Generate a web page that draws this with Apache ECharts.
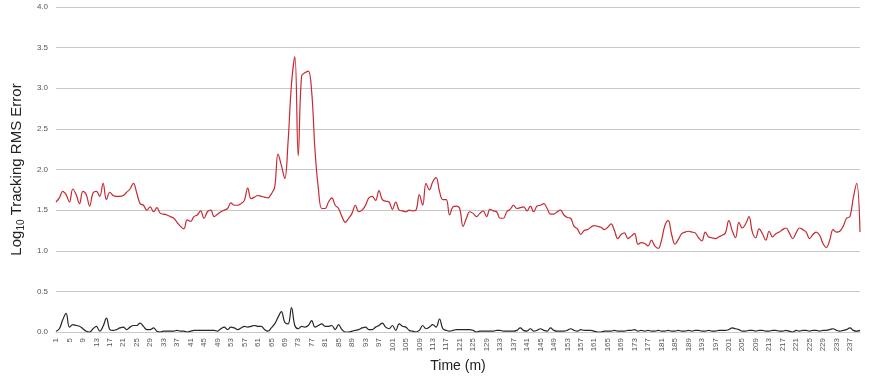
<!DOCTYPE html>
<html>
<head>
<meta charset="utf-8">
<script src="https://cdn.jsdelivr.net/npm/echarts@6/dist/echarts.min.js"></script>
<style>
  html, body { margin: 0; padding: 0; background: #fff; }
  #main { width: 871px; height: 376px; }
</style>
</head>
<body>
<div id="main"></div>
<script>
// time in minutes, 1..240
var minutes = [];
for (var m = 1; m <= 240; m++) { minutes.push(String(m)); }

// upper (red) series, log10 tracking RMS error
var redSeries = [
  1.60,1.65,1.73,1.69,1.60,1.76,1.69,1.58,1.73,1.69,
  1.55,1.71,1.73,1.67,1.83,1.63,1.72,1.68,1.67,1.67,
  1.68,1.72,1.76,1.83,1.71,1.58,1.56,1.50,1.54,1.48,
  1.53,1.46,1.45,1.44,1.42,1.40,1.35,1.30,1.27,1.38,
  1.36,1.42,1.44,1.49,1.40,1.48,1.50,1.42,1.45,1.48,
  1.50,1.52,1.59,1.56,1.56,1.58,1.62,1.77,1.64,1.66,
  1.68,1.67,1.66,1.65,1.70,1.78,2.19,2.05,1.89,2.35,
  3.05,3.39,2.17,3.15,3.19,3.21,2.96,2.23,1.76,1.52,
  1.52,1.60,1.65,1.56,1.52,1.42,1.35,1.40,1.46,1.56,
  1.48,1.50,1.56,1.65,1.67,1.62,1.74,1.63,1.61,1.60,
  1.51,1.60,1.50,1.49,1.48,1.50,1.49,1.50,1.69,1.56,
  1.83,1.75,1.85,1.90,1.73,1.63,1.63,1.44,1.54,1.55,
  1.52,1.30,1.40,1.48,1.46,1.42,1.46,1.49,1.42,1.51,
  1.49,1.48,1.40,1.40,1.48,1.51,1.56,1.52,1.53,1.54,
  1.49,1.55,1.48,1.55,1.56,1.58,1.52,1.45,1.45,1.48,
  1.50,1.44,1.41,1.40,1.30,1.27,1.20,1.25,1.26,1.29,
  1.31,1.30,1.29,1.26,1.29,1.33,1.25,1.15,1.20,1.22,
  1.15,1.18,1.21,1.08,1.10,1.09,1.06,1.13,1.06,1.03,
  1.13,1.31,1.37,1.20,1.08,1.14,1.21,1.23,1.24,1.23,
  1.22,1.16,1.12,1.23,1.17,1.16,1.15,1.17,1.19,1.22,
  1.37,1.25,1.16,1.35,1.28,1.33,1.42,1.23,1.16,1.27,
  1.21,1.13,1.24,1.17,1.21,1.23,1.26,1.28,1.22,1.15,
  1.22,1.28,1.26,1.23,1.15,1.20,1.23,1.19,1.09,1.04,
  1.13,1.26,1.23,1.24,1.30,1.40,1.42,1.65,1.83,1.23
];

// lower (black) series
var blackSeries = [
  0.01,0.04,0.15,0.23,0.06,0.09,0.08,0.07,0.04,0.01,
  0.00,0.04,0.07,0.01,0.07,0.17,0.03,0.02,0.03,0.05,
  0.06,0.03,0.06,0.08,0.08,0.11,0.07,0.03,0.03,0.05,
  0.01,0.00,0.01,0.01,0.01,0.01,0.02,0.01,0.01,0.00,
  0.01,0.02,0.02,0.02,0.02,0.02,0.02,0.02,0.01,0.04,
  0.06,0.03,0.06,0.05,0.03,0.05,0.07,0.06,0.07,0.08,
  0.07,0.07,0.03,0.01,0.05,0.10,0.18,0.25,0.12,0.10,
  0.30,0.08,0.04,0.07,0.06,0.08,0.14,0.06,0.08,0.10,
  0.07,0.07,0.08,0.03,0.09,0.03,0.00,0.00,0.01,0.02,
  0.03,0.05,0.06,0.03,0.03,0.06,0.08,0.11,0.06,0.04,
  0.08,0.02,0.10,0.07,0.06,0.02,0.01,0.00,0.02,0.08,
  0.04,0.06,0.09,0.06,0.16,0.04,0.02,0.01,0.02,0.03,
  0.03,0.03,0.03,0.03,0.02,0.00,0.01,0.01,0.01,0.01,
  0.01,0.02,0.02,0.01,0.01,0.01,0.01,0.02,0.05,0.02,
  0.01,0.04,0.01,0.02,0.04,0.02,0.01,0.05,0.02,0.01,
  0.01,0.01,0.02,0.04,0.02,0.01,0.03,0.02,0.02,0.02,
  0.01,0.00,0.00,0.01,0.01,0.01,0.02,0.01,0.01,0.01,
  0.02,0.02,0.03,0.01,0.02,0.01,0.02,0.01,0.01,0.02,
  0.01,0.01,0.02,0.01,0.01,0.02,0.01,0.01,0.02,0.01,
  0.02,0.02,0.01,0.01,0.02,0.01,0.01,0.02,0.02,0.02,
  0.03,0.05,0.04,0.03,0.01,0.01,0.02,0.02,0.01,0.02,
  0.02,0.01,0.01,0.02,0.02,0.01,0.01,0.02,0.01,0.00,
  0.02,0.01,0.02,0.02,0.01,0.02,0.02,0.01,0.02,0.02,
  0.03,0.04,0.02,0.01,0.02,0.03,0.05,0.02,0.01,0.02
];

var chart = echarts.init(document.getElementById('main'));

var option = {
    animation: false,
    backgroundColor: '#fff',
    textStyle: { fontFamily: 'Liberation Sans' },
    grid: { left: 56, right: 11, top: 7, bottom: 44, outerBoundsMode: 'none' },
    xAxis: {
        type: 'category',
        data: minutes,
        boundaryGap: false,
        name: 'Time (m)',
        nameLocation: 'middle',
        nameGap: 26,
        nameTextStyle: { fontSize: 14, color: '#222' },
        axisLine: { lineStyle: { color: '#c8c8c8' } },
        axisTick: { show: false },
        axisLabel: { interval: 3, rotate: 90, fontSize: 8, color: '#555', margin: 6 }
    },
    yAxis: {
        type: 'value',
        min: 0,
        max: 4,
        interval: 0.5,
        name: '{t|Log}{s|10}{t| Tracking RMS Error}',
        nameLocation: 'middle',
        nameGap: 28,
        nameTextStyle: {
            rich: {
                t: { fontSize: 15, color: '#222', fontFamily: 'Liberation Sans' },
                s: { fontSize: 10, color: '#222', fontFamily: 'Liberation Sans', verticalAlign: 'bottom', padding: [8, 0, 0, 0] }
            }
        },
        axisLine: { show: false },
        axisTick: { show: false },
        axisLabel: {
            fontSize: 8, color: '#555', margin: 8,
            formatter: function (v) { return v.toFixed(1); }
        },
        splitLine: { lineStyle: { color: '#c8c8c8', width: 1 } }
    },
    series: [
        {
            name: 'upper',
            type: 'line',
            data: redSeries,
            smooth: 0.4,
            symbol: 'none',
            lineStyle: { color: '#c62a32', width: 1.2 }
        },
        {
            name: 'lower',
            type: 'line',
            data: blackSeries,
            smooth: 0.4,
            symbol: 'none',
            lineStyle: { color: '#262626', width: 1.2 }
        }
    ]
};

chart.setOption(option);
</script>
</body>
</html>
